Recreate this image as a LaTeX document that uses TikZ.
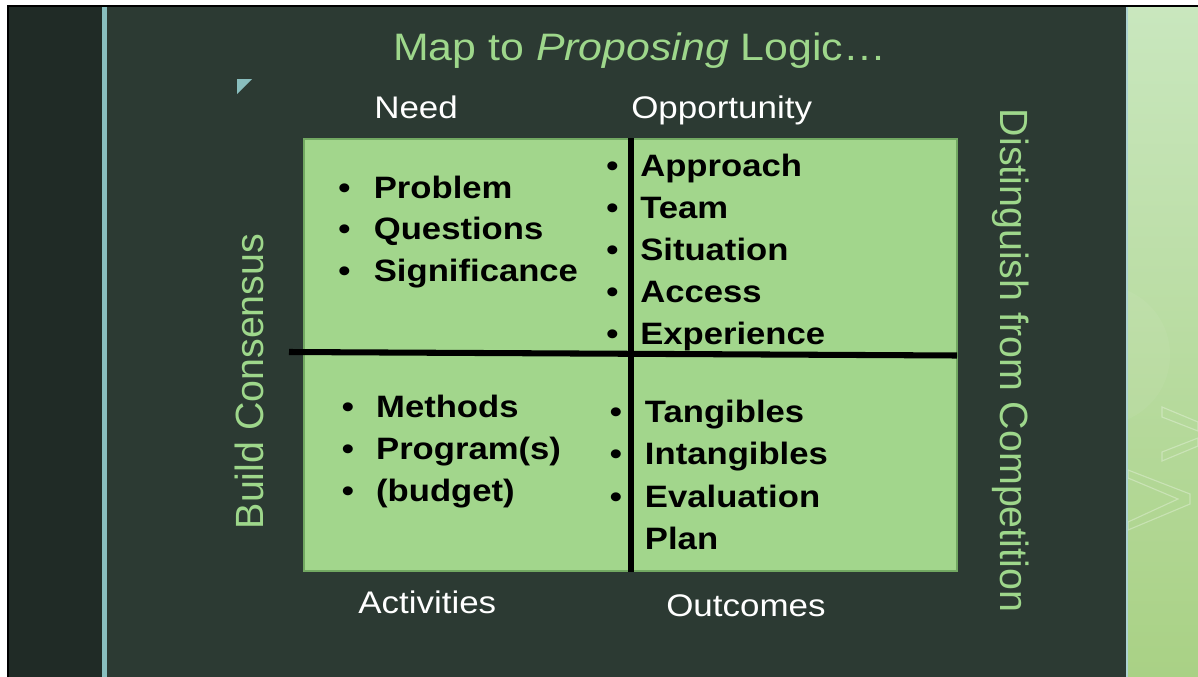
\documentclass[tikz,border=0pt]{standalone}
\usepackage{fontspec}
\setmainfont{Liberation Sans}
\newfontfamily\widefont{Liberation Sans}[FakeStretch=1.12]
\usetikzlibrary{positioning}

\definecolor{slidebg}{HTML}{2C3A33}
\definecolor{stripbg}{HTML}{202B26}
\definecolor{tealline}{HTML}{89BEBE}
\definecolor{quadgreen}{HTML}{A2D68C}
\definecolor{quadedge}{HTML}{72A862}
\definecolor{titlegreen}{HTML}{9ED78B}
\definecolor{panelhi}{HTML}{C9E7BE}
\definecolor{panelmid}{HTML}{B0DB98}
\definecolor{panello}{HTML}{A9D185}

\tikzset{
  itemtext/.style={anchor=base west,inner sep=0pt,text=black,
    font=\widefont\fontsize{22}{26}\selectfont\bfseries},
  headlabel/.style={anchor=base west,inner sep=0pt,text=white,
    font=\widefont\fontsize{22.2}{26}\selectfont},
  sidelabel/.style={anchor=base,inner sep=0pt,text=titlegreen,
    font=\fontsize{28}{32}\selectfont},
  divider/.style={draw=black,line width=4.3pt},
  chevron/.style={draw=white,draw opacity=.3,line width=0.8pt},
}
\newcommand{\bulletitem}[2][0.9cm]{\makebox[#1][l]{\textbullet}#2}

\begin{document}
\begin{tikzpicture}[x=0.025cm,y=-0.025cm]
  \useasboundingbox (0,0) rectangle (1198,677);

  % page frame and slide background
  \fill[white] (0,0) rectangle (1198,677);
  \fill[black] (7,5) rectangle (1198,677);
  \fill[stripbg] (9,7) rectangle (102,677);
  \fill[tealline] (102,7) rectangle (106.5,677);
  \fill[slidebg] (106.5,7) rectangle (1125.5,677);

  % green side panel
  \fill[tealline!70!white] (1125.5,7) rectangle (1128,677);
  \shade[top color=panelhi,middle color=panelmid,bottom color=panello]
    (1128,7) rectangle (1198,677);
  \begin{scope}
    \clip (1128,7) rectangle (1198,677);
    \fill[white,opacity=.05] (1100,355) circle (70);
    \draw[chevron] (1162,407) -- (1198,422) -- (1198,431) -- (1162,417) -- cycle;
    \draw[chevron] (1162,452) -- (1198,438) -- (1198,446) -- (1162,461) -- cycle;
    \draw[chevron] (1128,470) -- (1190,494) -- (1190,504) -- (1128,530)
      -- (1128,522) -- (1178,499) -- (1128,478) -- cycle;
  \end{scope}

  % small corner mark
  \fill[tealline] (237,79) -- (252,79) -- (237,94) -- cycle;

  % title
  \node[anchor=base west,inner sep=0pt,text=titlegreen,
    font=\widefont\fontsize{27.2}{30}\selectfont] (title) at (393,60)
    {Map to \textit{Proposing} Logic…};

  % quadrant block
  \filldraw[fill=quadgreen,draw=quadedge,line width=0.8pt]
    (304,139) rectangle (957,571);
  \coordinate (hleft) at (289,352);
  \coordinate (hright) at (957,355.5);
  \coordinate (vtop) at (631,138);
  \coordinate (vbot) at (631,572);
  \draw[divider] (hleft) -- (hright);
  \draw[divider] (vtop) -- (vbot);

  % column and row headings
  \node[headlabel] (need) at (374,118) {Need};
  \node[headlabel] (opp) at (631,118) {Opportunity};
  \node[headlabel] (act) at (358,613) {Activities};
  \node[headlabel] (out) at (666,616) {Outcomes};

  \node[sidelabel,rotate=90] (consensus) at (263,381.5) {Build Consensus};
  \node[sidelabel,rotate=-90] (compete) at (1000,360.5)
    {Distinguish from Competition};

  % need
  \foreach \t [count=\i] in {Problem,Questions,Significance}
    \node[itemtext] (need\i) at (338,{198.2+41.7*(\i-1)}) {\bulletitem[0.89cm]{\t}};
  % opportunity
  \foreach \t [count=\i] in {Approach,Team,Situation,Access,Experience}
    \node[itemtext] (opp\i) at (606,{176.5+42*(\i-1)}) {\bulletitem[0.85cm]{\t}};
  % activities
  \foreach \t [count=\i] in {Methods,Program(s),(budget)}
    \node[itemtext] (act\i) at (341.5,{417+42*(\i-1)}) {\bulletitem[0.86cm]{\t}};
  % outcomes
  \foreach \t [count=\i] in {Tangibles,Intangibles,Evaluation}
    \node[itemtext] (out\i) at (609.5,{422+42.5*(\i-1)}) {\bulletitem[0.88cm]{\t}};
  \node[itemtext] (out4) at (609.5,549.5) {\makebox[0.88cm]{}Plan};
\end{tikzpicture}
\end{document}
